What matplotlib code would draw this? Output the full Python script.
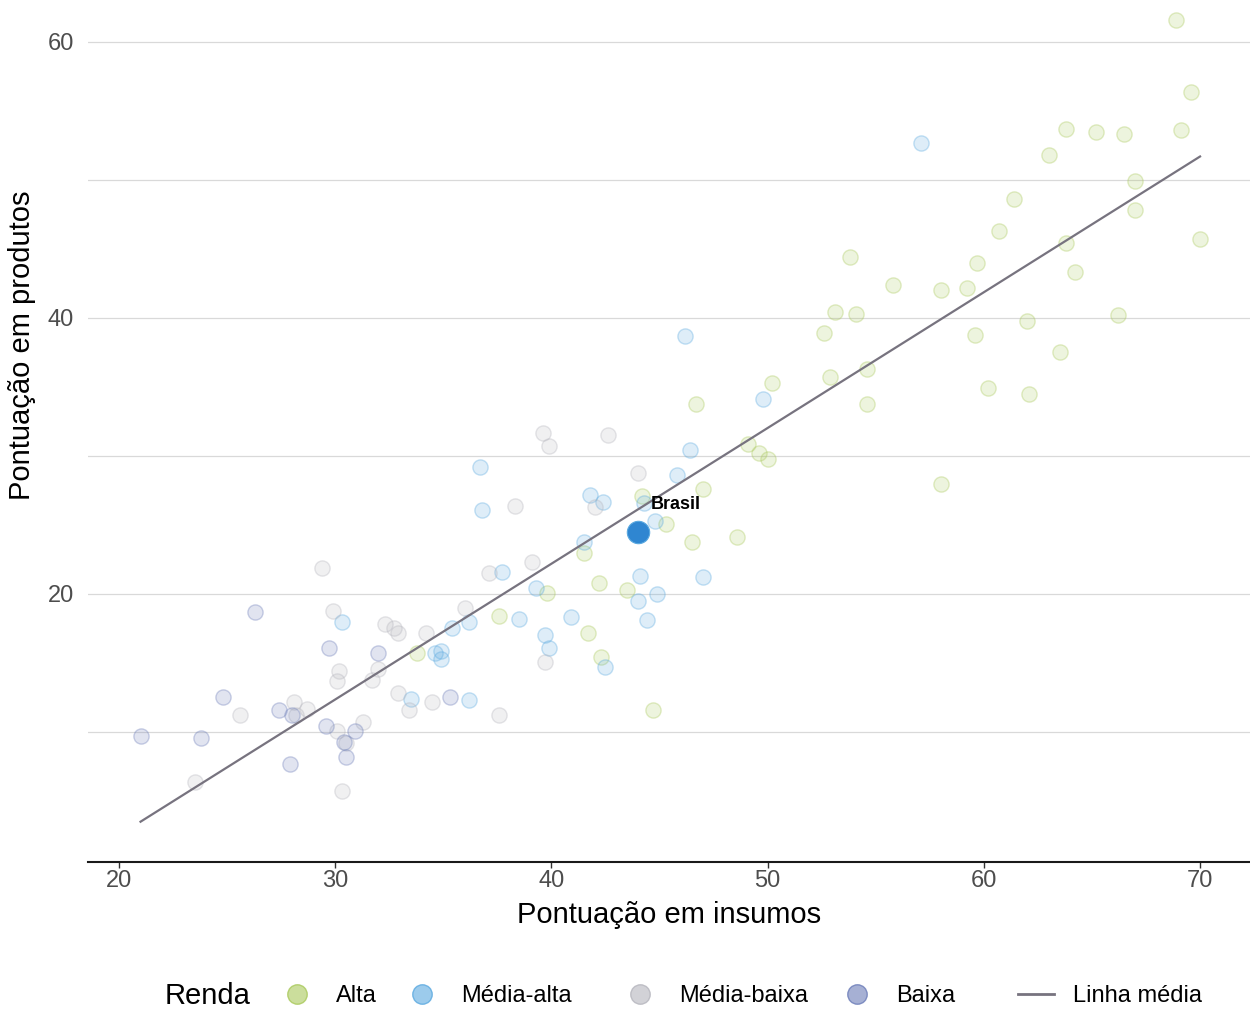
import numpy as np
import matplotlib
matplotlib.use("Agg")
import matplotlib.pyplot as plt
from matplotlib.lines import Line2D
from matplotlib.colors import to_rgba

plt.rcParams['font.family'] = ['Liberation Sans', 'DejaVu Sans']

# pontos: (insumos, produtos) por grupo de renda
alta_x = [68.9, 69.6, 63.8, 65.2, 66.5, 69.1, 63.0, 67.0, 61.4, 60.7, 67.0, 70.0,
          63.8, 64.2, 53.8, 55.8, 59.7, 58.0, 59.2, 53.1, 54.1, 52.6, 59.6, 62.0,
          66.2, 63.5, 52.9, 54.6, 50.2, 60.2, 62.1, 54.6, 46.7, 49.1, 49.6, 50.0,
          58.0, 47.0, 44.2, 45.3, 46.5, 48.6, 41.5, 42.2, 43.5, 39.8, 37.6, 41.7,
          33.8, 42.3, 44.7]
alta_y = [61.6, 56.4, 53.7, 53.5, 53.3, 53.6, 51.8, 49.9, 48.6, 46.3, 47.8, 45.7,
          45.4, 43.3, 44.4, 42.4, 44.0, 42.0, 42.2, 40.4, 40.3, 38.9, 38.8, 39.8,
          40.2, 37.5, 35.7, 36.3, 35.3, 34.9, 34.5, 33.8, 33.8, 30.9, 30.2, 29.8,
          28.0, 27.6, 27.1, 25.1, 23.8, 24.1, 23.0, 20.8, 20.3, 20.1, 18.4, 17.2,
          15.7, 15.4, 11.6]

media_alta_x = [57.1, 46.2, 49.8, 46.4, 36.7, 45.8, 41.8, 42.4, 44.3, 36.8, 44.8,
                41.5, 37.7, 44.1, 47.0, 39.3, 44.9, 44.0, 44.4, 40.9, 38.5, 36.2,
                35.4, 30.3, 39.7, 39.9, 34.9, 34.6, 34.9, 42.5, 33.5, 36.2]
media_alta_y = [52.7, 38.7, 34.1, 30.4, 29.2, 28.6, 27.2, 26.7, 26.6, 26.1, 25.3,
                23.8, 21.6, 21.3, 21.2, 20.4, 20.0, 19.5, 18.1, 18.3, 18.2, 18.0,
                17.5, 18.0, 17.0, 16.1, 15.9, 15.7, 15.3, 14.7, 12.4, 12.3]

media_baixa_x = [23.5, 25.6, 28.1, 28.7, 28.2, 29.4, 29.9, 30.1, 30.2, 30.3, 30.1,
                 30.5, 31.3, 31.7, 32.0, 32.3, 32.7, 32.9, 32.9, 33.4, 34.2, 34.5,
                 36.0, 37.1, 37.6, 38.3, 39.1, 39.6, 39.9, 39.7, 42.0, 42.6, 44.0]
media_baixa_y = [6.4, 11.2, 12.2, 11.7, 11.2, 21.9, 18.8, 13.7, 14.4, 5.7, 10.1,
                 9.2, 10.7, 13.8, 14.6, 17.8, 17.5, 17.2, 12.8, 11.6, 17.2, 12.2,
                 19.0, 21.5, 11.2, 26.4, 22.3, 31.7, 30.7, 15.1, 26.3, 31.5, 28.8]

baixa_x = [21.0, 23.8, 24.8, 26.3, 27.4, 27.9, 28.0, 29.6, 29.7, 30.4, 30.5, 30.9,
           32.0, 35.3]
baixa_y = [9.7, 9.6, 12.5, 18.7, 11.6, 7.7, 11.2, 10.4, 16.1, 9.3, 8.2, 10.1,
           15.7, 12.5]

brasil_x, brasil_y = 44.0, 24.5

# linha media (extremos)
linha_x = [21.0, 70.0]
linha_y = [3.5, 51.7]

grupos = ['Alta', 'Média-alta', 'Média-baixa', 'Baixa']
cores = ['#a9c95a', '#5aa9e0', '#b5b5bd', '#6b7cb8']
dados = [(alta_x, alta_y), (media_alta_x, media_alta_y),
         (media_baixa_x, media_baixa_y), (baixa_x, baixa_y)]

fig = plt.figure(figsize=(12.5, 10.1), dpi=100)
ax = fig.add_axes([88 / 1250, 148 / 1010, 1 - 88 / 1250, 862 / 1010])

for (xs, ys), cor in zip(dados, cores):
    ax.scatter(xs, ys, s=120, facecolor=to_rgba(cor, 0.2),
               edgecolor=to_rgba(cor, 0.35), linewidth=1.0, zorder=2)

ax.plot(linha_x, linha_y, color='#77737f', lw=1.6, zorder=3)

ax.scatter([brasil_x], [brasil_y], s=260, color='#2f86d1', zorder=4,
           edgecolor='#5aa9e0', linewidth=0.8)
ax.annotate('Brasil', (brasil_x, brasil_y), xytext=(9, 20),
            textcoords='offset points', fontsize=13, fontweight='bold',
            ha='left', va='center', zorder=5)

ax.set_xlim(18.57, 72.31)
ax.set_ylim(0.58, 63.04)
ax.set_xticks([20, 30, 40, 50, 60, 70])
ax.set_yticks([20, 40, 60])
ax.set_yticks([10, 30, 50], minor=True)
ax.grid(axis='y', which='both', color='#d9d9d9', lw=0.9)
ax.grid(axis='x', visible=False)
ax.set_axisbelow(True)

for s in ['top', 'right', 'left']:
    ax.spines[s].set_visible(False)
ax.spines['bottom'].set_color('#1a1a1a')
ax.spines['bottom'].set_linewidth(1.5)

ax.tick_params(axis='x', length=4, width=1, color='#333333', labelsize=17,
               labelcolor='#4d4d4d', pad=2)
ax.tick_params(axis='y', which='both', length=0, labelsize=17,
               labelcolor='#4d4d4d', pad=10)

ax.set_xlabel('Pontuação em insumos', fontsize=21, labelpad=6.5)
ax.set_ylabel('Pontuação em produtos', fontsize=21)
ax.yaxis.set_label_coords(-0.045, 0.6)

# legenda: uma entrada por vez para acertar os espacamentos
fs = 17
y_leg = 14 / 1010
fig.text(165 / 1250, y_leg, 'Renda', fontsize=21, ha='left', va='center')
handles = [Line2D([], [], ls='', marker='o', markersize=14,
                  markerfacecolor=to_rgba(c, 0.6), markeredgecolor=to_rgba(c, 0.8))
           for c in cores]
handles.append(Line2D([], [], color='#77737f', lw=2))
labels = grupos + ['Linha média']
leg_left = [285, 410, 628, 845, 1018]
for h, lab, x0 in zip(handles, labels, leg_left):
    is_line = lab == 'Linha média'
    leg = fig.legend([h], [lab], loc='center left', bbox_to_anchor=(x0 / 1250, y_leg),
                     frameon=False, fontsize=fs,
                     handlelength=1.53 if is_line else 1.0,
                     handletextpad=0.8 if is_line else 1.15,
                     borderpad=0, borderaxespad=0)

fig.savefig('out.png', dpi=100)
